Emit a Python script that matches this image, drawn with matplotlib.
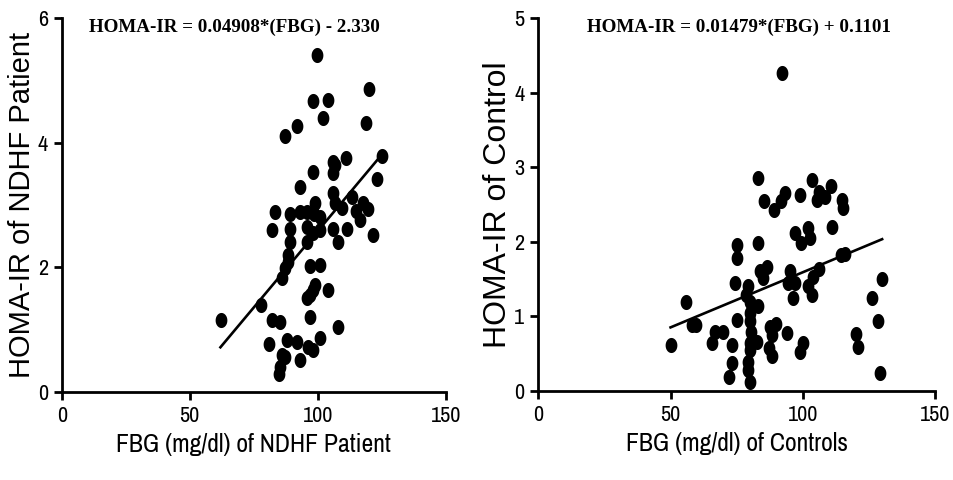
import matplotlib.pyplot as plt
import numpy as np
from matplotlib import font_manager

names = {f.name for f in font_manager.fontManager.ttflist}
narrow = 'Liberation Sans Narrow' if 'Liberation Sans Narrow' in names else 'Archivo Narrow'

# NDHF patients: FBG (mg/dl) vs HOMA-IR
fbg_pat = [99.8, 120.0, 98.0, 104.1, 102.0, 118.9, 92.0, 87.2, 125.0, 110.9,
           105.9, 106.8, 98.0, 105.9, 123.0, 93.1, 105.9, 113.3, 99.0, 117.8,
           106.8, 83.3, 89.2, 93.1, 95.7, 119.8, 98.5, 101.0, 109.5, 115.0,
           82.0, 89.2, 96.0, 98.0, 101.0, 106.0, 111.3, 116.5, 121.7, 89.2,
           95.7, 108.0, 88.5, 88.5, 97.0, 101.0, 87.2, 85.9, 99.0, 104.1,
           98.3, 97.0, 95.7, 77.9, 62.1, 82.0, 85.3, 97.0, 108.0, 81.1,
           87.9, 91.8, 101.0, 96.3, 98.3, 86.0, 87.2, 93.1, 85.3, 85.0]
homa_pat = [5.41, 4.86, 4.67, 4.69, 4.40, 4.32, 4.27, 4.11, 3.79, 3.76,
            3.68, 3.64, 3.52, 3.51, 3.41, 3.29, 3.19, 3.13, 3.03, 3.03,
            3.03, 2.89, 2.86, 2.89, 2.89, 2.94, 2.86, 2.80, 2.95, 2.90,
            2.60, 2.62, 2.65, 2.55, 2.60, 2.62, 2.62, 2.76, 2.52, 2.41,
            2.41, 2.41, 2.19, 2.09, 2.01, 2.03, 1.98, 1.82, 1.71, 1.63,
            1.63, 1.55, 1.50, 1.39, 1.15, 1.15, 1.12, 1.20, 1.04, 0.77,
            0.83, 0.80, 0.86, 0.72, 0.67, 0.59, 0.56, 0.51, 0.40, 0.29]

# controls
fbg_ctl = [92.2, 83.1, 103.3, 110.8, 85.3, 93.2, 91.9, 89.2, 99.1, 106.2,
           105.2, 108.3, 115.0, 115.2, 97.0, 102.0, 111.1, 102.6, 99.5, 75.0,
           75.0, 83.1, 114.6, 115.9, 86.3, 83.8, 85.0, 95.1, 94.4, 97.0,
           106.2, 103.9, 74.3, 79.3, 78.7, 80.0, 102.0, 103.3, 96.3, 130.1,
           126.0, 56.0, 83.1, 80.0, 80.0, 80.6, 75.2, 58.0, 59.8, 87.5,
           90.0, 88.2, 94.1, 128.3, 66.8, 70.0, 65.6, 73.1, 50.1, 82.5,
           87.3, 88.2, 99.9, 99.1, 120.3, 120.9, 80.0, 80.0, 73.1, 72.2,
           79.3, 79.3, 80.0, 129.1]
homa_ctl = [4.26, 2.85, 2.83, 2.74, 2.55, 2.65, 2.54, 2.42, 2.63, 2.67,
            2.56, 2.60, 2.56, 2.45, 2.12, 2.18, 2.20, 2.05, 1.98, 1.96,
            1.78, 1.98, 1.82, 1.84, 1.66, 1.60, 1.51, 1.60, 1.44, 1.44,
            1.63, 1.53, 1.44, 1.40, 1.28, 1.19, 1.40, 1.28, 1.24, 1.50,
            1.25, 1.19, 1.13, 1.04, 0.93, 0.79, 0.95, 0.88, 0.88, 0.86,
            0.90, 0.75, 0.77, 0.94, 0.79, 0.79, 0.64, 0.61, 0.62, 0.66,
            0.57, 0.46, 0.64, 0.52, 0.76, 0.59, 0.64, 0.55, 0.37, 0.19,
            0.39, 0.28, 0.12, 0.24]

slope_pat, icpt_pat = 0.04908, -2.330
slope_ctl, icpt_ctl = 0.01479, 0.1101

t = np.linspace(0, 2 * np.pi, 40)
ellipse = np.column_stack([0.78 * np.cos(t), np.sin(t)])

fig = plt.figure(figsize=(9.54, 4.8), dpi=100)
ax1 = fig.add_axes([0.0647, 0.184, 0.4025, 0.7785])
ax2 = fig.add_axes([0.5643, 0.186, 0.4158, 0.7765])

panels = [
    (ax1, fbg_pat, homa_pat, slope_pat, icpt_pat, (62, 125), 6, [0, 2, 4, 6],
     'HOMA-IR = 0.04908*(FBG) - 2.330', 0.449, 'FBG (mg/dl) of NDHF Patient', 'HOMA-IR of NDHF Patient', 21),
    (ax2, fbg_ctl, homa_ctl, slope_ctl, icpt_ctl, (50, 130), 5, [0, 1, 2, 3, 4, 5],
     'HOMA-IR = 0.01479*(FBG) + 0.1101', 0.506, 'FBG (mg/dl) of Controls', 'HOMA-IR of Control', 23),
]

for ax, x, y, m, b, xr, ymax, yt, eq, eqx, xl, yl, ys in panels:
    ax.scatter(x, y, s=118, marker=ellipse, color='black', linewidths=0, zorder=3)
    xx = np.array(xr)
    ax.plot(xx, m * xx + b, color='black', lw=1.9, zorder=2)
    ax.set_xlim(0, 150)
    ax.set_ylim(0, ymax)
    ax.set_xticks([0, 50, 100, 150])
    ax.set_yticks(yt)
    for s in ['top', 'right']:
        ax.spines[s].set_visible(False)
    for s in ['left', 'bottom']:
        ax.spines[s].set_linewidth(2)
        ax.spines[s].set_clip_on(False)
    ax.tick_params(width=2, length=6, labelsize=16, pad=4)
    for lab in ax.get_xticklabels() + ax.get_yticklabels():
        lab.set_fontfamily(narrow)
        lab.set_fontweight('bold')
    ax.set_xlabel(xl, fontsize=18.5, family=narrow, labelpad=5)
    ax.set_ylabel(yl, fontsize=ys, family='Liberation Sans', labelpad=1)
    ax.text(eqx, 0.975, eq, transform=ax.transAxes, ha='center', va='center',
            fontsize=13.7, family='Liberation Serif', weight='bold')

fig.savefig('out.png', dpi=100)
